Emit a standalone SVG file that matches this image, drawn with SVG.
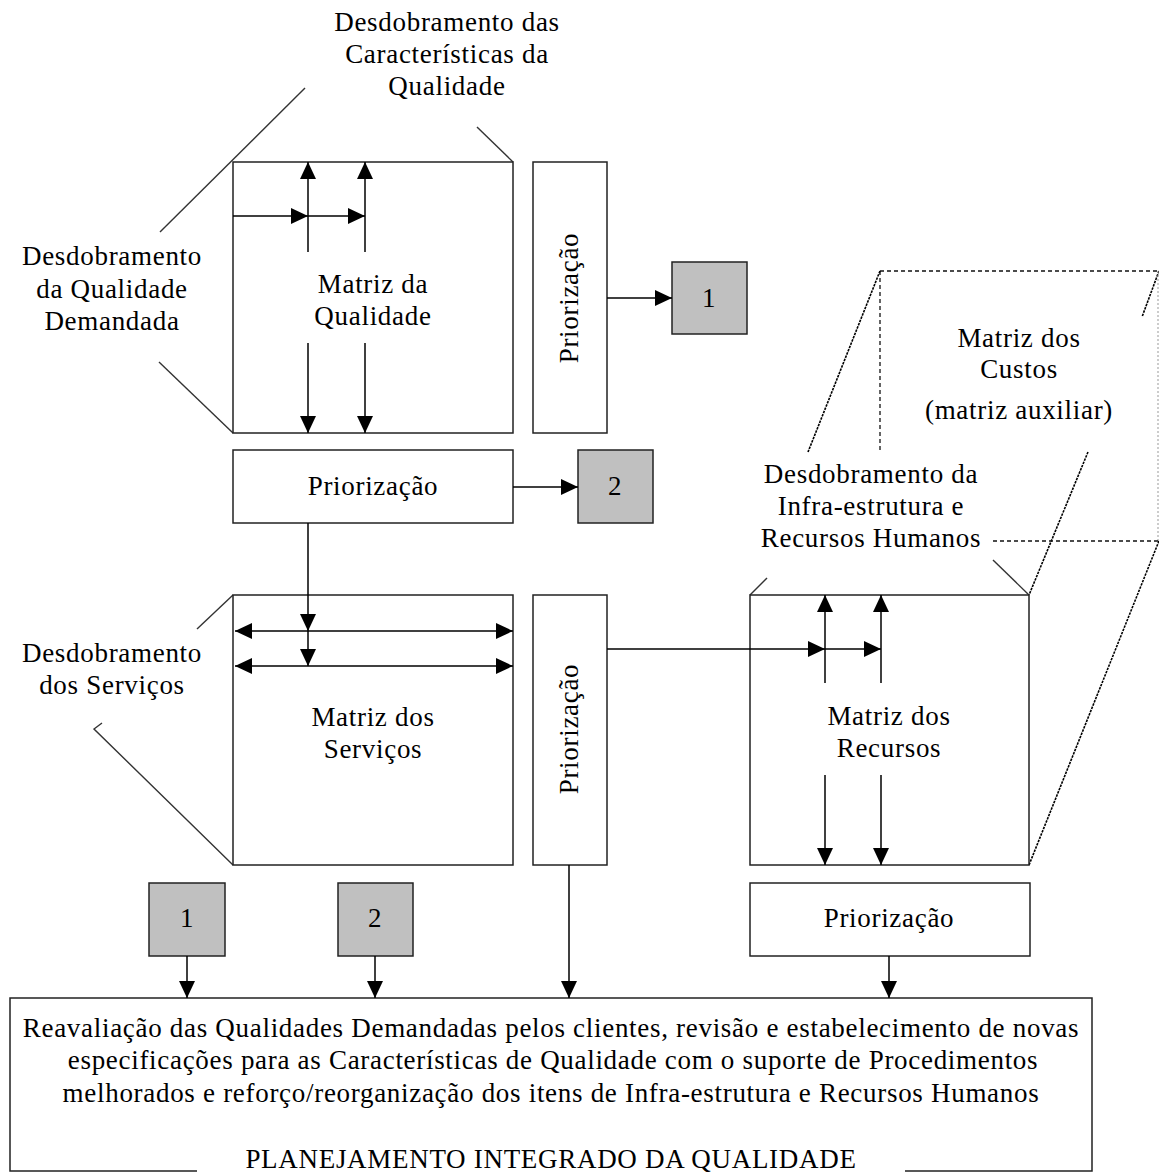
<svg xmlns="http://www.w3.org/2000/svg" width="1159" height="1173" viewBox="0 0 1159 1173">
<style>
  text { font-family: "Liberation Serif", "Times New Roman", serif; font-size: 27px; letter-spacing: 0.7px; fill: #000; text-anchor: middle; }
  .box { fill: #fff; stroke: #222; stroke-width: 1.5; }
  .gray { fill: #c0c0c0; stroke: #222; stroke-width: 1.5; }
  .arr { stroke: #000; stroke-width: 1.5; fill: none; marker-end: url(#ah); }
  .arr2 { stroke: #000; stroke-width: 1.5; fill: none; marker-end: url(#ah); marker-start: url(#ah); }
  .lead { stroke: #333; stroke-width: 1.4; fill: none; }
  .dash { stroke: #111; stroke-width: 1.3; fill: none; stroke-dasharray: 4 3; }
  .dot { stroke: #000; stroke-width: 1.6; fill: none; stroke-dasharray: 2.5 1; }
  .faint { stroke: #999; stroke-width: 1; fill: none; stroke-dasharray: 2 2; }
</style>
<defs>
  <marker id="ah" markerUnits="userSpaceOnUse" markerWidth="20" markerHeight="20" refX="17" refY="8" orient="auto-start-reverse">
    <path d="M0,0 L17,8 L0,16 z" fill="#000"/>
  </marker>
</defs>
<rect width="1159" height="1173" fill="#fff"/>

<!-- Matriz dos Custos (dashed auxiliary cube) -->
<g id="matriz-custos">
  <line class="dash" x1="880" y1="271" x2="1159" y2="271"/>
  <line class="dash" x1="880" y1="271" x2="880" y2="452"/>
  <line class="dot" x1="880" y1="271" x2="808" y2="452"/>
  <line class="dot" x1="1159" y1="271" x2="1142" y2="317"/>
  <line class="faint" x1="1158" y1="271" x2="1158" y2="541"/>
  <line class="dot" x1="1088" y1="452" x2="1029" y2="595"/>
  <line class="dash" x1="993" y1="541" x2="1159" y2="541"/>
  <line class="dot" x1="1159" y1="541" x2="1029" y2="865"/>
  <text x="1019" y="347">Matriz dos</text>
  <text x="1019" y="378">Custos</text>
  <text x="1019" y="419">(matriz auxiliar)</text>
</g>

<!-- Labels with leader lines -->
<g id="label-caracteristicas">
  <text x="447" y="31">Desdobramento das</text>
  <text x="447" y="63">Características da</text>
  <text x="447" y="95">Qualidade</text>
  <line class="lead" x1="477" y1="127" x2="513" y2="162"/>
</g>
<g id="label-demandada">
  <text x="112" y="265">Desdobramento</text>
  <text x="112" y="298">da Qualidade</text>
  <text x="112" y="330">Demandada</text>
  <line class="lead" x1="305" y1="88" x2="160" y2="232"/>
  <line class="lead" x1="159" y1="362" x2="233" y2="433"/>
</g>
<g id="label-servicos">
  <text x="112" y="662">Desdobramento</text>
  <text x="112" y="694">dos Serviços</text>
  <line class="lead" x1="197" y1="629" x2="233" y2="595"/>
  <polyline class="lead" points="102,723 94,729 233,865"/>
</g>
<g id="label-infra">
  <text x="871" y="483">Desdobramento da</text>
  <text x="871" y="515">Infra-estrutura e</text>
  <text x="871" y="547">Recursos Humanos</text>
  <line class="lead" x1="750" y1="595" x2="767" y2="578"/>
  <line class="lead" x1="993" y1="560" x2="1029" y2="595"/>
</g>

<!-- Nodes -->
<g id="matriz-qualidade">
  <rect class="box" x="233" y="162" width="280" height="271"/>
  <text x="373" y="293">Matriz da</text>
  <text x="373" y="325">Qualidade</text>
</g>
<g id="priorizacao-qualidade-vertical">
  <rect class="box" x="533" y="162" width="74" height="271"/>
  <text transform="translate(578,298) rotate(-90)">Priorização</text>
</g>
<g id="ref1-top">
  <rect class="gray" x="672" y="262" width="75" height="72"/>
  <text x="709" y="307">1</text>
</g>
<g id="priorizacao-qualidade-horizontal">
  <rect class="box" x="233" y="450" width="280" height="73"/>
  <text x="373" y="495">Priorização</text>
</g>
<g id="ref2-top">
  <rect class="gray" x="578" y="450" width="75" height="73"/>
  <text x="615" y="495">2</text>
</g>
<g id="matriz-servicos">
  <rect class="box" x="233" y="595" width="280" height="270"/>
  <text x="373" y="726">Matriz dos</text>
  <text x="373" y="758">Serviços</text>
</g>
<g id="priorizacao-servicos">
  <rect class="box" x="533" y="595" width="74" height="270"/>
  <text transform="translate(578,729) rotate(-90)">Priorização</text>
</g>
<g id="matriz-recursos">
  <rect class="box" x="750" y="595" width="279" height="270"/>
  <text x="889" y="725">Matriz dos</text>
  <text x="889" y="757">Recursos</text>
</g>
<g id="priorizacao-recursos">
  <rect class="box" x="750" y="883" width="280" height="73"/>
  <text x="889" y="927">Priorização</text>
</g>
<g id="ref1-bottom">
  <rect class="gray" x="149" y="883" width="76" height="73"/>
  <text x="187" y="927">1</text>
</g>
<g id="ref2-bottom">
  <rect class="gray" x="338" y="883" width="75" height="73"/>
  <text x="375" y="927">2</text>
</g>
<g id="planejamento">
  <polyline fill="none" stroke="#222" stroke-width="1.5" points="197,1171 10,1171 10,998 1092,998 1092,1171 905,1171"/>
  <text x="551" y="1037">Reavaliação das Qualidades Demandadas pelos clientes, revisão e estabelecimento de novas</text>
  <text x="553" y="1069">especificações para as Características de Qualidade com o suporte de Procedimentos</text>
  <text x="551" y="1102">melhorados e reforço/reorganização dos itens de Infra-estrutura e Recursos Humanos</text>
  <text x="551" y="1168">PLANEJAMENTO INTEGRADO DA QUALIDADE</text>
</g>

<!-- Connectors -->
<g id="connectors">
  <line class="arr" x1="308" y1="252" x2="308" y2="162"/>
  <line class="arr" x1="365" y1="252" x2="365" y2="162"/>
  <line class="arr" x1="233" y1="216" x2="308" y2="216"/>
  <line class="arr" x1="308" y1="216" x2="365" y2="216"/>
  <line class="arr" x1="308" y1="343" x2="308" y2="433"/>
  <line class="arr" x1="365" y1="343" x2="365" y2="433"/>
  <line class="arr" x1="607" y1="298" x2="672" y2="298"/>
  <line class="arr" x1="513" y1="487" x2="578" y2="487"/>
  <line class="arr" x1="308" y1="523" x2="308" y2="631"/>
  <line class="arr" x1="308" y1="631" x2="308" y2="666"/>
  <line class="arr2" x1="235" y1="631" x2="513" y2="631"/>
  <line class="arr2" x1="235" y1="666" x2="513" y2="666"/>
  <line class="arr" x1="607" y1="649" x2="825" y2="649"/>
  <line class="arr" x1="825" y1="649" x2="881" y2="649"/>
  <line class="arr" x1="825" y1="683" x2="825" y2="595"/>
  <line class="arr" x1="881" y1="683" x2="881" y2="595"/>
  <line class="arr" x1="825" y1="775" x2="825" y2="865"/>
  <line class="arr" x1="881" y1="775" x2="881" y2="865"/>
  <line class="arr" x1="187" y1="956" x2="187" y2="998"/>
  <line class="arr" x1="375" y1="956" x2="375" y2="998"/>
  <line class="arr" x1="569" y1="865" x2="569" y2="998"/>
  <line class="arr" x1="889" y1="956" x2="889" y2="998"/>
</g>
</svg>
